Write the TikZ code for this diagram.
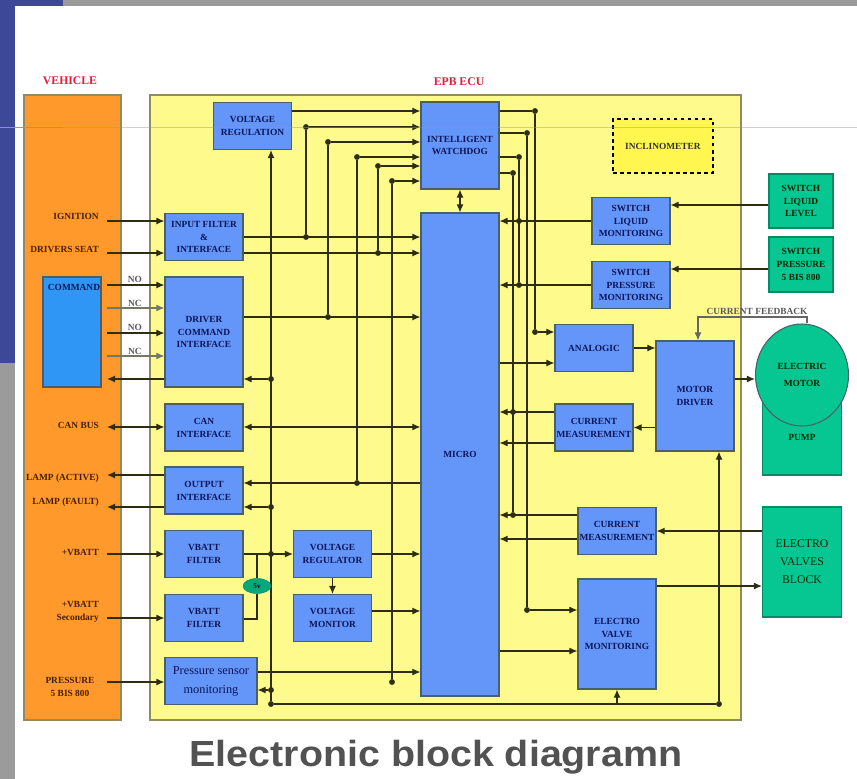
\documentclass[tikz,border=0pt]{standalone}
\usepackage{fontspec}
\setmainfont{Liberation Serif}
\newfontfamily\titlefont{Liberation Sans}
\usepackage{xcolor}
\usetikzlibrary{shapes.geometric, arrows.meta, positioning}
\definecolor{slideblue}{RGB}{62, 72, 152}
\definecolor{slidegray}{RGB}{155, 155, 155}
\definecolor{hairline}{RGB}{150, 150, 150}
\definecolor{vehorange}{RGB}{255, 153, 43}
\definecolor{ecuyellow}{RGB}{255, 250, 140}
\definecolor{inclyellow}{RGB}{255, 247, 80}
\definecolor{blockblue}{RGB}{100, 150, 250}
\definecolor{cmdblue}{RGB}{48, 150, 245}
\definecolor{extgreen}{RGB}{6, 198, 145}
\definecolor{edgegray}{RGB}{75, 95, 105}
\definecolor{wirecol}{RGB}{45, 45, 20}
\definecolor{labelnavy}{RGB}{10, 20, 85}
\definecolor{labelbrown}{RGB}{70, 30, 5}
\definecolor{labelred}{RGB}{225, 30, 60}
\tikzset{
    >={Latex[length=7pt,width=6pt]},
    block/.style={draw=edgegray, line width=0.9pt, fill=blockblue, text=labelnavy, align=center,
        inner sep=0pt, minimum width=2.34cm, minimum height=1.41cm,
        font=\fontsize{8}{11}\selectfont\bfseries},
    extern/.style={block, draw=extgreen!70!black, fill=extgreen, text=black!85!green},
    panel/.style={draw=black!50!yellow!70!gray, line width=1pt, inner sep=0pt},
    vehlabel/.style={text=labelbrown, align=right, inner sep=0pt, font=\fontsize{8}{11}\selectfont\bfseries},
    contact/.style={text=black!65, inner sep=0pt, font=\fontsize{8}{9}\selectfont\bfseries},
    wire/.style={draw=wirecol, line width=1pt},
    jdot/.style={circle, fill=wirecol, inner sep=0pt, minimum size=5pt},
}
\begin{document}
\begin{tikzpicture}[x=0.03cm, y=-0.03cm]
\useasboundingbox (0,0) rectangle (857,779);
% Slide background
\fill[white] (0,0) rectangle (857,779);
\fill[slidegray] (63,0) rectangle (857,6);
\fill[slideblue] (0,0) rectangle (63,6);
\fill[slideblue] (0,0) rectangle (15,363);
\fill[slidegray] (0,363) rectangle (15,779);

% Panels
\node[panel, fill=vehorange, minimum width=2.91cm, minimum height=18.75cm] (vehicle) at (72.5,407.5) {};
\node[panel, fill=ecuyellow, minimum width=17.73cm, minimum height=18.75cm] (ecu) at (445.5,407.5) {};
\node[labelred, inner sep=0pt, font=\fontsize{10}{12}\selectfont\bfseries] (vehtitle) at (70,81) {VEHICLE};
\node[labelred, inner sep=0pt, font=\fontsize{10}{12}\selectfont\bfseries] (ecutitle) at (459,82) {EPB ECU};
\node[block, fill=cmdblue, minimum width=1.74cm, minimum height=3.3cm] (command) at (72,332) {};
\node[text=labelnavy, inner sep=0pt, font=\fontsize{8}{10}\selectfont\bfseries] (cmdlabel) at (74,287) {COMMAND};
\coordinate (vedge) at (107,0);

% Left column
\node[block] (inpflt) at (204,237) {INPUT FILTER\\\&\\INTERFACE};
\node[block, minimum height=3.3cm] (driver) at (204,332) {DRIVER\\COMMAND\\INTERFACE};
\node[block] (canif) at (204,427.5) {CAN\\INTERFACE};
\node[block] (outif) at (204,490.5) {OUTPUT\\INTERFACE};
\node[block] (flt1) at (204,554) {VBATT\\FILTER};
\node[block] (flt2) at (204,618) {VBATT\\FILTER};
\node[block, minimum width=2.76cm, font=\fontsize{10.5}{16}\selectfont] (press) at (211,681) {Pressure sensor\\monitoring};

% Middle
\node[block] (reg) at (252.5,126) {VOLTAGE\\REGULATION};
\node[block] (vreg) at (332.5,554) {VOLTAGE\\REGULATOR};
\node[block] (vmon) at (332.5,618) {VOLTAGE\\MONITOR};
\node[block, minimum height=2.61cm] (wdog) at (460,145.5) {INTELLIGENT\\WATCHDOG};
\node[block, minimum height=14.49cm] (micro) at (460,454.5) {MICRO};

% Right column
\node[block] (swliq) at (631,221) {SWITCH\\LIQUID\\MONITORING};
\node[block] (swpre) at (631,285) {SWITCH\\PRESSURE\\MONITORING};
\node[block] (analog) at (594,348) {ANALOGIC};
\node[block] (curmot) at (594,427.5) {CURRENT\\MEASUREMENT};
\node[block, minimum height=3.3cm] (motdrv) at (695,396) {MOTOR\\DRIVER};
\node[block] (curval) at (617,531) {CURRENT\\MEASUREMENT};
\node[block, minimum height=3.3cm] (evm) at (617,634) {ELECTRO\\VALVE\\MONITORING};
\node[draw=black, dashed, line width=1.5pt, fill=inclyellow, inner sep=0pt, minimum width=3cm, minimum height=1.62cm,
    font=\fontsize{8}{10}\selectfont\bfseries, text=black!80] (incl) at (663,146) {INCLINOMETER};

% External parts
\node[extern, minimum width=1.92cm, minimum height=1.62cm] (grnliq) at (801,201) {SWITCH\\LIQUID\\LEVEL};
\node[extern, minimum width=1.92cm, minimum height=1.65cm] (grnpre) at (801,264.5) {SWITCH\\PRESSURE\\5 BIS 800};
\node[extern, minimum width=2.37cm, minimum height=2.25cm] (pump) at (802,437.5) {PUMP};
\node[extern, draw=edgegray, ellipse, minimum width=2.79cm, minimum height=3.06cm, font=\fontsize{8}{14}\selectfont\bfseries] (motor) at (802,375) {ELECTRIC\\MOTOR};
\node[extern, minimum width=2.37cm, minimum height=3.3cm, font=\fontsize{10}{15.5}\selectfont] (valves) at (802,562) {ELECTRO\\VALVES\\BLOCK};

% Vehicle labels
\node[vehlabel, anchor=east] (lblign) at (99,216) {IGNITION};
\node[vehlabel, anchor=east] (lblseat) at (99,249) {DRIVERS SEAT};
\node[vehlabel, anchor=east] (lblcan) at (99,425) {CAN BUS};
\node[vehlabel, anchor=east] (lblact) at (99,478) {LAMP (ACTIVE)};
\node[vehlabel, anchor=east] (lblflt) at (99,502) {LAMP (FAULT)};
\node[vehlabel, anchor=east] (lblbat) at (99,552) {+VBATT};
\node[vehlabel, anchor=east] (lblsec) at (99,612) {+VBATT\\Secondary};
\node[vehlabel, align=center] (lblpre) at (70,687) {PRESSURE\\5 BIS 800};
\node[contact] (cno1) at (135,279) {NO};
\node[contact] (cnc1) at (135,303) {NC};
\node[contact] (cno2) at (135,327) {NO};
\node[contact] (cnc2) at (135,351) {NC};

% Vehicle to ECU
\foreach \y in {221,253,285,333,554,618,682} {
    \draw[wire, ->] (vedge |- 0,\y) -- (driver.west |- 0,\y);
}
\foreach \y in {308,356} {
    \draw[wire, draw=wirecol!65, ->] (vedge |- 0,\y) -- (driver.west |- 0,\y);
}
\draw[wire, ->] (driver.west |- 0,379) -- (vedge |- 0,379);
\draw[wire, <->] (vedge |- 0,427) -- (canif.west |- 0,427);
\draw[wire, ->] (outif.west |- 0,475) -- (vedge |- 0,475);
\draw[wire, ->] (outif.west |- 0,507) -- (vedge |- 0,507);

% Inputs of the watchdog and of the micro
\draw[wire, ->] (reg.east |- 0,111) -- (wdog.west |- 0,111);
\foreach \name/\x/\top/\bot in {a/306/127/237, b/328/142/317, c/357/157/483, d/378/166/253, e/392/181/682} {
    \node[jdot] (top\name) at (\x,\top) {};
    \node[jdot] (bot\name) at (\x,\bot) {};
    \draw[wire] (top\name) -- (bot\name);
    \draw[wire, ->] (top\name) -- (wdog.west |- top\name);
}
\draw[wire, ->] (inpflt.east |- bota) -- (micro.west |- bota);
\draw[wire, ->] (inpflt.east |- botd) -- (micro.west |- botd);
\draw[wire, ->] (driver.east |- botb) -- (micro.west |- botb);
\draw[wire, ->] (micro.west |- botc) -- (outif.east |- botc);
\draw[wire, <->] (canif.east |- 0,427) -- (micro.west |- 0,427);
\draw[wire, ->] (vreg.east |- 0,554) -- (micro.west |- 0,554);
\draw[wire, ->] (vmon.east |- 0,611) -- (micro.west |- 0,611);
\draw[wire, ->] (press.east |- 0,672) -- (micro.west |- 0,672);
\draw[wire, ->] (vreg.south) -- (vmon.north);
\draw[wire, <->] (wdog.south) -- (micro.north);

% Supply bus
\node[jdot] (busdrv) at (271,379) {};
\node[jdot] (busout) at (271,507) {};
\node[jdot] (busbat) at (271,554) {};
\node[jdot] (buspre) at (271,690) {};
\node[jdot] (busend) at (271,704) {};
\node[jdot] (busright) at (719,704) {};
\draw[wire, ->] (busend) -- (busend |- reg.south);
\draw[wire] (busend) -- (busright);
\draw[wire, ->] (busright) -- (busright |- motdrv.south);
\draw[wire, ->] (evm.south |- busend) -- (evm.south);
\draw[wire, ->] (busdrv) -- (driver.east |- busdrv);
\draw[wire, ->] (busout) -- (outif.east |- busout);
\draw[wire, ->] (buspre) -- (press.east |- buspre);
\draw[wire, ->] (flt1.east |- busbat) -- (vreg.west |- busbat);

% Battery diode
\node[draw=extgreen!70!black, fill=extgreen!85!black, ellipse, inner sep=0pt, minimum width=0.84cm, minimum height=0.45cm,
    font=\fontsize{6}{7}\selectfont\bfseries] (diode) at (257,586) {5v};
\draw[wire] (flt2.east |- 0,619) -| (diode.south);
\draw[wire] (diode.north) -- (diode.north |- busbat);

% Outputs of the watchdog
\foreach \name/\x/\top/\bot in {p/535/111/332, q/527/133/610, r/519/157/285, s/513/173/515} {
    \node[jdot] (wtop\name) at (\x,\top) {};
    \node[jdot] (wbot\name) at (\x,\bot) {};
    \draw[wire] (wtop\name) -- (wbot\name);
    \draw[wire] (wdog.east |- wtop\name) -- (wtop\name);
}
\node[jdot] (wmidr) at (519,221) {};
\node[jdot] (wmids) at (513,412) {};
\draw[wire, ->] (wbotp) -- (analog.west |- wbotp);
\draw[wire, ->] (wbotq) -- (evm.west |- wbotq);

% Monitors back to the micro
\draw[wire, ->] (swliq.west |- wmidr) -- (micro.east |- wmidr);
\draw[wire, ->] (swpre.west |- wbotr) -- (micro.east |- wbotr);
\draw[wire, ->] (curmot.west |- wmids) -- (micro.east |- wmids);
\draw[wire, ->] (curmot.west |- 0,443) -- (micro.east |- 0,443);
\draw[wire, ->] (curval.west |- wbots) -- (micro.east |- wbots);
\draw[wire, ->] (curval.west |- 0,539) -- (micro.east |- 0,539);
\draw[wire, ->] (micro.east |- 0,363) -- (analog.west |- 0,363);
\draw[wire, ->] (micro.east |- 0,651) -- (evm.west |- 0,651);

% Right hand side
\draw[wire, ->] (grnliq.west |- 0,205) -- (swliq.east |- 0,205);
\draw[wire, ->] (grnpre.west |- 0,269) -- (swpre.east |- 0,269);
\draw[wire, ->] (analog.east) -- (motdrv.west |- analog.east);
\draw[wire, ->] (motdrv.west |- curmot.east) -- (curmot.east);
\draw[wire, ->] (motdrv.east |- 0,379) -- (motor.west |- 0,379);
\draw[wire, ->] (valves.west |- 0,531) -- (curval.east |- 0,531);
\draw[wire, ->] (evm.east |- 0,586) -- (valves.west |- 0,586);
\coordinate (fbturn) at (698,317);
\draw[wire, draw=black!60, ->] (motor.north -| 807,0) |- (fbturn) -- (fbturn |- motdrv.north);
\node[contact] (fblabel) at (757,311) {CURRENT FEEDBACK};

% Title
\node[text=black!68, inner sep=0pt, xscale=1.085, font=\titlefont\bfseries\fontsize{31}{36}\selectfont] (title) at (436,757) {Electronic block diagramn};

% Faint line over the whole slide
\draw[hairline, opacity=0.45, line width=0.6pt] (0,127) -- (857,127);
\draw[hairline, line width=0.6pt] (0,127) -- (63,127);
\end{tikzpicture}
\end{document}
